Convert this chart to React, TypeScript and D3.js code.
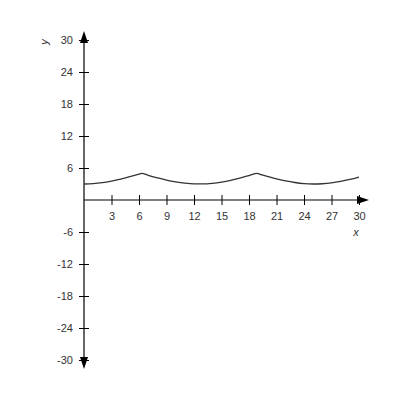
import { useEffect, useRef } from "react";
import * as d3 from "d3";

// values
const xs = [0, 1, 2, 3, 4, 5, 6, 6.3, 7, 8, 9, 10, 11, 12, 13, 14, 15, 16, 17, 18, 18.9, 19, 20, 21, 22, 23, 24, 25, 26, 27, 28, 29, 30];
const ys = [3.0, 3.06, 3.24, 3.54, 3.92, 4.37, 4.86, 5.0, 4.64, 4.17, 3.74, 3.4, 3.15, 3.02, 3.01, 3.13, 3.36, 3.69, 4.11, 4.58, 5.0, 4.93, 4.43, 3.98, 3.58, 3.28, 3.08, 3.0, 3.05, 3.21, 3.49, 3.86, 4.31];
const xTicks = [3, 6, 9, 12, 15, 18, 21, 24, 27, 30];
const yTicks = [-30, -24, -18, -12, -6, 6, 12, 18, 24, 30];

export default function App() {
  const ref = useRef<SVGGElement>(null);

  const scaleX = d3.scaleLinear().domain([0, 30]).range([84, 359]);
  const scaleY = d3.scaleLinear().domain([-30, 30]).range([360, 40]);

  const points = xs.map((x, i) => [x, ys[i]] as [number, number]);
  const line = d3
    .line<[number, number]>()
    .x((d) => scaleX(d[0]))
    .y((d) => scaleY(d[1]))
    .curve(d3.curveMonotoneX);

  useEffect(() => {
    if (!ref.current) return;
    const g = d3.select(ref.current);
    g.selectAll("*").remove();

    const x0 = scaleX(0);
    const y0 = scaleY(0);
    const font = "Liberation Sans, Arial, sans-serif";

    // x axis
    const ax = g.append("g").attr("transform", `translate(0,${y0})`).call(
      d3.axisBottom(scaleX).tickValues(xTicks).tickFormat((d) => String(d)).tickSizeInner(5).tickSizeOuter(0).tickPadding(7)
    );
    ax.select(".domain").remove();
    ax.selectAll(".tick line").attr("y1", -5).attr("stroke", "#000");
    ax.selectAll(".tick text").attr("fill", "#333").attr("font-size", 11).attr("font-family", font);

    // y axis
    const ay = g.append("g").attr("transform", `translate(${x0},0)`).call(
      d3.axisLeft(scaleY).tickValues(yTicks).tickFormat((d) => String(d)).tickSizeInner(5).tickSizeOuter(0).tickPadding(6)
    );
    ay.select(".domain").remove();
    ay.selectAll(".tick line").attr("x1", 5).attr("stroke", "#000");
    ay.selectAll(".tick text").attr("fill", "#333").attr("font-size", 11).attr("font-family", font);

    // axis lines
    g.append("line").attr("x1", x0).attr("x2", 362).attr("y1", y0).attr("y2", y0).attr("stroke", "#000").attr("stroke-width", 1.2);
    g.append("line").attr("x1", x0).attr("x2", x0).attr("y1", 36).attr("y2", 364).attr("stroke", "#000").attr("stroke-width", 1.2);

    // arrow heads
    g.append("path").attr("d", `M${x0},31 L${x0 - 4},43 L${x0 + 4},43 Z`).attr("fill", "#000");
    g.append("path").attr("d", `M${x0},369 L${x0 - 4},357 L${x0 + 4},357 Z`).attr("fill", "#000");
    g.append("path").attr("d", `M369,${y0} L357,${y0 - 4} L357,${y0 + 4} Z`).attr("fill", "#000");

    // axis names
    g.append("text").attr("x", 356).attr("y", 236).attr("text-anchor", "middle").attr("font-style", "italic")
      .attr("font-size", 11).attr("fill", "#333").attr("font-family", font).text("x");
    g.append("text").attr("transform", "translate(48,42) rotate(-90)").attr("text-anchor", "middle").attr("font-style", "italic")
      .attr("font-size", 11).attr("fill", "#333").attr("font-family", font).text("y");

    // curve
    g.append("path").attr("d", line(points) as string).attr("fill", "none").attr("stroke", "#333").attr("stroke-width", 1.3);
  }, []);

  return (
    <svg width={400} height={400} style={{ position: "absolute", left: 0, top: 0, background: "#fff" }}>
      <g ref={ref} />
    </svg>
  );
}
